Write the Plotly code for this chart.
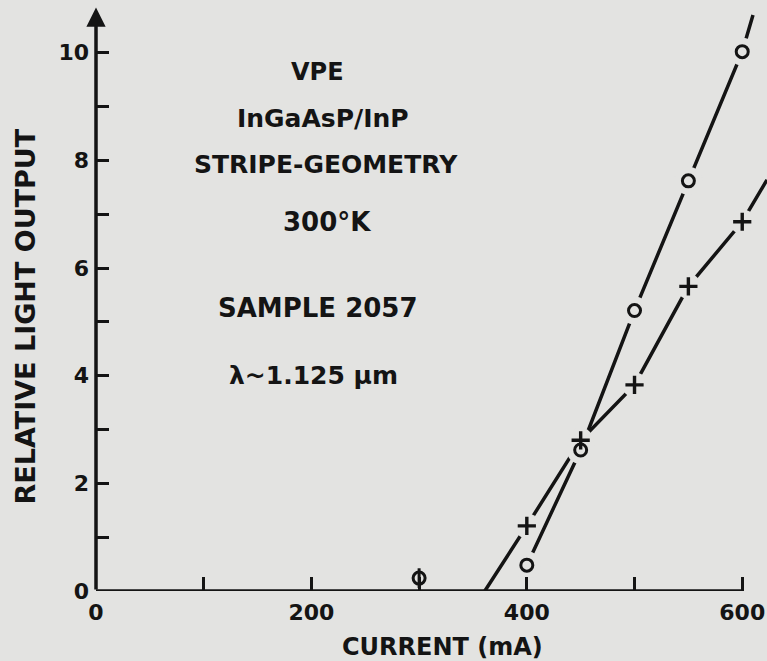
import plotly.graph_objects as go

# ---- data ----
current_circle = [300, 400, 450, 500, 550, 600]
output_circle = [0.24, 0.48, 2.62, 5.21, 7.62, 10.02]

current_plus = [400, 450, 500, 550, 600]
output_plus = [1.21, 2.80, 3.83, 5.66, 6.86]

# drawn curves (hand-drawn lines through the points, with their end extensions)
line_circle_x = [400, 450, 500, 550, 600, 610]
line_circle_y = [0.48, 2.62, 5.21, 7.62, 10.02, 10.70]
line_plus_x = [361, 400, 450, 500, 550, 600, 623]
line_plus_y = [0.0, 1.21, 2.80, 3.83, 5.66, 6.86, 7.64]

x_tick_vals = [0, 200, 400, 600]
x_tick_text = ["0", "200", "400", "600"]
y_tick_vals = [0, 2, 4, 6, 8, 10]
y_tick_text = ["0", "2", "4", "6", "8", "10"]

notes = ["VPE", "InGaAsP/InP", "STRIPE-GEOMETRY", "300°K", "SAMPLE 2057", "λ~1.125 μm"]

BG = "#e3e3e1"
INK = "#141414"
FONT = "DejaVu Sans"

fig = go.Figure()

# lines
fig.add_trace(go.Scatter(x=line_circle_x, y=line_circle_y, mode="lines",
                         line=dict(color=INK, width=3.5), hoverinfo="skip", showlegend=False))
fig.add_trace(go.Scatter(x=line_plus_x, y=line_plus_y, mode="lines",
                         line=dict(color=INK, width=3.5), hoverinfo="skip", showlegend=False))

# background discs giving the gaps around the marks
fig.add_trace(go.Scatter(x=current_circle[1:], y=output_circle[1:], mode="markers",
                         marker=dict(symbol="circle", size=28, color=BG, line=dict(width=0)),
                         hoverinfo="skip", showlegend=False))
fig.add_trace(go.Scatter(x=current_plus, y=output_plus, mode="markers",
                         marker=dict(symbol="circle", size=25, color=BG, line=dict(width=0)),
                         hoverinfo="skip", showlegend=False))

# marks
fig.add_trace(go.Scatter(x=current_circle, y=output_circle, mode="markers", name="circle",
                         marker=dict(symbol="circle-open", size=12, color=INK,
                                     line=dict(width=3, color=INK)), showlegend=False))
fig.add_trace(go.Scatter(x=current_circle[:1], y=output_circle[:1], mode="markers",
                         marker=dict(symbol="line-ns-open", size=14, color=INK,
                                     line=dict(width=3, color=INK)),
                         hoverinfo="skip", showlegend=False))
fig.add_trace(go.Scatter(x=current_plus, y=output_plus, mode="markers", name="plus",
                         marker=dict(symbol="cross-thin-open", size=13, color=INK,
                                     line=dict(width=3.4, color=INK)), showlegend=False))

# x axis line ending at 600
fig.add_shape(type="line", x0=0, x1=600, y0=0, y1=0, xref="x", yref="y",
              line=dict(color=INK, width=3.5), layer="above")

# y axis with arrow
fig.add_annotation(x=0, y=10.84, ax=0, ay=0, xref="x", yref="y", axref="x", ayref="y",
                   text="", showarrow=True, arrowhead=2, arrowsize=1.1, arrowwidth=3.5,
                   arrowcolor=INK, standoff=0)

note_pos = [(317, 71.7), (322.5, 118.3), (326, 165), (327, 221.7), (317.5, 308.3), (313, 375)]
note_size = [24, 25, 25, 26, 26, 25]
L, T, W, H = 96, 0, 671, 591
for txt, (px, py), fs in zip(notes, note_pos, note_size):
    fig.add_annotation(x=(px - L) / W, y=(H - py) / H, xref="paper", yref="paper",
                       text=txt, showarrow=False, xanchor="center", yanchor="middle",
                       font=dict(family=FONT, size=fs, color=INK, weight="bold"))

fig.add_annotation(x=(443 - L) / W, y=(H - 647) / H, xref="paper", yref="paper",
                   text="CURRENT (mA)", showarrow=False, xanchor="center", yanchor="middle",
                   font=dict(family=FONT, size=24, color=INK, weight="bold"))
fig.add_annotation(x=(25 - L) / W, y=(H - 316.5) / H, xref="paper", yref="paper",
                   text="RELATIVE LIGHT OUTPUT", textangle=-90, showarrow=False,
                   xanchor="center", yanchor="middle",
                   font=dict(family=FONT, size=27, color=INK, weight="bold"))

fig.update_layout(
    width=767, height=661,
    margin=dict(l=L, r=0, t=T, b=661 - H),
    paper_bgcolor=BG, plot_bgcolor=BG,
    showlegend=False,
    xaxis=dict(range=[0, 623], showgrid=False, zeroline=False, showline=False,
               tickmode="array", tickvals=x_tick_vals, ticktext=x_tick_text,
               ticks="inside", ticklen=14, tickwidth=3, tickcolor=INK,
               minor=dict(tickmode="linear", tick0=0, dtick=100, ticks="inside",
                          ticklen=14, tickwidth=3, tickcolor=INK),
               tickfont=dict(family=FONT, size=22, color=INK, weight="bold"),
               ticklabelstandoff=6, layer="above traces", fixedrange=True),
    yaxis=dict(range=[0, 10.98], showgrid=False, zeroline=False, showline=False,
               tickmode="array", tickvals=y_tick_vals, ticktext=y_tick_text,
               ticks="inside", ticklen=13, tickwidth=3, tickcolor=INK,
               minor=dict(tickmode="linear", tick0=0, dtick=1, ticks="inside",
                          ticklen=13, tickwidth=3, tickcolor=INK),
               tickfont=dict(family=FONT, size=22, color=INK, weight="bold"),
               ticklabelstandoff=6, layer="above traces", fixedrange=True),
)

fig.write_html("out.html", config={"displayModeBar": False},
               post_script="document.body.style.margin='0';document.body.style.background='%s';" % BG)
